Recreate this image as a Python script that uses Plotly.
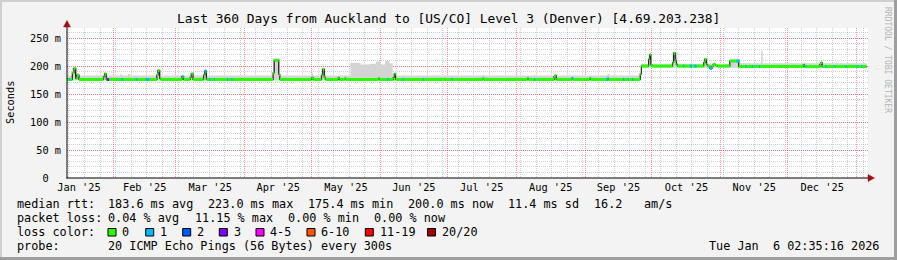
import plotly.graph_objects as go
from datetime import datetime
import bisect

# ---------------- data ----------------
title_text = "Last 360 Days from Auckland to [US/CO] Level 3 (Denver) [4.69.203.238]"
x_start = "2025-01-11 02:35"
x_end = "2026-01-06 02:35"

# median RTT (ms), step function: value holds from each time until the next
med_t = [
    "2025-01-11 00:00", "2025-01-13 12:00", "2025-01-14 06:00", "2025-01-15 00:00", "2025-01-15 12:00", "2025-01-16 12:00",
    "2025-01-27 12:00", "2025-01-28 00:00", "2025-01-28 18:00",
    "2025-02-20 12:00", "2025-02-21 00:00", "2025-02-21 18:00", "2025-02-22 06:00",
    "2025-03-03 18:00", "2025-03-04 12:00",
    "2025-03-07 12:00", "2025-03-08 00:00", "2025-03-08 18:00",
    "2025-03-13 12:00", "2025-03-14 00:00", "2025-03-14 18:00",
    "2025-04-13 18:00", "2025-04-14 06:00", "2025-04-16 06:00", "2025-04-16 18:00",
    "2025-05-01 00:00", "2025-05-01 18:00",
    "2025-05-05 12:00", "2025-05-06 00:00", "2025-05-06 18:00", "2025-05-07 06:00",
    "2025-05-13 00:00", "2025-05-13 12:00",
    "2025-05-16 00:00", "2025-05-16 12:00",
    "2025-05-31 00:00", "2025-05-31 12:00",
    "2025-06-06 18:00", "2025-06-07 06:00", "2025-06-07 18:00",
    "2025-07-17 00:00", "2025-07-17 12:00",
    "2025-08-06 00:00", "2025-08-06 12:00",
    "2025-08-18 00:00", "2025-08-18 12:00", "2025-08-19 00:00",
    "2025-08-26 00:00", "2025-08-26 12:00",
    "2025-09-03 00:00", "2025-09-03 12:00",
    "2025-09-11 00:00", "2025-09-11 12:00",
    "2025-09-25 18:00", "2025-09-26 06:00",
    "2025-09-29 12:00", "2025-09-30 00:00", "2025-09-30 12:00", "2025-10-01 00:00",
    "2025-10-10 06:00", "2025-10-10 18:00", "2025-10-11 12:00", "2025-10-12 00:00", "2025-10-12 12:00",
    "2025-10-24 06:00", "2025-10-24 18:00", "2025-10-25 12:00", "2025-10-26 00:00",
    "2025-10-27 00:00", "2025-10-28 00:00", "2025-10-28 12:00", "2025-10-29 12:00", "2025-10-30 12:00",
    "2025-11-05 00:00", "2025-11-09 00:00",
    "2025-12-08 00:00", "2025-12-08 12:00",
    "2025-12-15 12:00", "2025-12-16 00:00", "2025-12-16 12:00",
    "2026-01-05 12:00",
]
med_v = [
    176, 188, 196, 178, 184, 176,
    181, 186, 176,
    184, 192, 178, 176,
    181, 176,
    180, 186, 176,
    184, 191, 176,
    188, 210, 185, 176,
    179, 176,
    184, 194, 180, 176,
    179, 176,
    178, 176,
    178, 176,
    180, 186, 176,
    178, 176,
    178, 176,
    181, 183, 176,
    178, 176,
    178, 176,
    178, 176,
    186, 200,
    212, 220, 202, 200,
    206, 223, 210, 203, 200,
    206, 212, 203, 200,
    196, 200, 203, 201, 200,
    209, 199,
    202, 199,
    203, 206, 199,
    199,
]

# smoke (spread of the 20 pings), upper edge, step function
smoke_t = [
    "2025-01-11 00:00", "2025-01-13 12:00", "2025-01-15 12:00", "2025-01-16 12:00",
    "2025-01-27 12:00", "2025-01-28 18:00",
    "2025-02-04 00:00", "2025-02-05 00:00", "2025-02-07 12:00", "2025-02-08 12:00",
    "2025-02-20 12:00", "2025-02-22 06:00",
    "2025-03-07 12:00", "2025-03-08 18:00",
    "2025-03-13 12:00", "2025-03-14 18:00",
    "2025-04-13 18:00", "2025-04-16 18:00",
    "2025-05-01 00:00", "2025-05-01 18:00",
    "2025-05-05 12:00", "2025-05-07 06:00",
    "2025-05-18 12:00", "2025-05-23 00:00", "2025-05-27 00:00", "2025-05-30 00:00", "2025-06-01 00:00",
    "2025-06-03 00:00", "2025-06-05 00:00", "2025-06-06 12:00",
    "2025-06-06 18:00", "2025-06-07 18:00",
    "2025-08-18 00:00", "2025-08-19 00:00",
    "2025-09-11 00:00", "2025-09-12 00:00",
    "2025-09-25 18:00", "2025-09-26 06:00",
    "2025-09-29 12:00", "2025-10-01 00:00",
    "2025-10-10 06:00", "2025-10-12 12:00",
    "2025-10-24 06:00", "2025-10-26 00:00",
    "2025-11-05 00:00", "2025-11-09 00:00",
    "2025-11-19 00:00", "2025-11-19 18:00",
    "2025-12-16 00:00", "2025-12-16 12:00",
    "2026-01-05 12:00",
]
smoke_hi = [
    183, 197, 186, 183,
    188, 183,
    185, 183, 186, 183,
    194, 183,
    188, 183,
    193, 183,
    214, 183,
    187, 183,
    196, 183,
    206, 203, 204, 208, 203,
    209, 205, 183,
    188, 183,
    186, 183,
    186, 183,
    188, 204,
    222, 204,
    225, 204,
    214, 204,
    212, 205,
    227, 205,
    208, 205,
    205,
]
smoke_lo_t = ["2025-01-11 00:00", "2025-09-26 06:00", "2026-01-05 12:00"]
smoke_lo = [174, 197, 197]

# periods with 1 of 20 pings lost (blue) and 3 lost (purple)
loss1_start = ["2025-01-12 00:00", "2025-02-04 12:00", "2025-02-11 00:00", "2025-02-15 12:00", "2025-03-04 00:00",
               "2025-03-14 00:00", "2025-03-16 00:00", "2025-03-18 00:00", "2025-03-24 00:00", "2025-03-26 00:00",
               "2025-06-04 00:00", "2025-06-11 00:00", "2025-06-20 00:00", "2025-07-03 00:00", "2025-08-09 00:00",
               "2025-08-26 00:00", "2025-09-10 12:00", "2025-09-18 00:00", "2025-09-20 00:00", "2025-09-22 00:00",
               "2025-10-15 00:00", "2025-10-18 00:00", "2025-10-20 00:00", "2025-10-27 00:00", "2025-11-08 00:00",
               "2025-11-12 00:00", "2025-11-15 00:00", "2025-11-18 00:00", "2025-12-09 00:00", "2025-12-18 00:00",
               "2025-12-22 00:00", "2025-12-27 00:00", "2026-01-01 00:00", "2026-01-03 00:00"]
loss1_end = ["2025-01-12 12:00", "2025-02-05 06:00", "2025-02-11 18:00", "2025-02-17 00:00", "2025-03-04 12:00",
             "2025-03-14 18:00", "2025-03-16 12:00", "2025-03-18 12:00", "2025-03-24 12:00", "2025-03-26 12:00",
             "2025-06-04 12:00", "2025-06-11 12:00", "2025-06-20 12:00", "2025-07-03 12:00", "2025-08-09 12:00",
             "2025-08-26 12:00", "2025-09-11 12:00", "2025-09-18 12:00", "2025-09-20 12:00", "2025-09-22 12:00",
             "2025-10-15 12:00", "2025-10-19 00:00", "2025-10-21 00:00", "2025-10-28 00:00", "2025-11-09 12:00",
             "2025-11-12 12:00", "2025-11-15 12:00", "2025-11-18 12:00", "2025-12-09 12:00", "2025-12-18 12:00",
             "2025-12-22 12:00", "2025-12-27 12:00", "2026-01-01 12:00", "2026-01-03 12:00"]
loss3_start = ["2025-01-29 00:00"]
loss3_end = ["2025-01-30 00:00"]

y_tickvals = [0, 50, 100, 150, 200, 250]
y_ticktext = ["0\u00a0\u00a0", "50 m", "100 m", "150 m", "200 m", "250 m"]

legend_rtt = [("median rtt:", 16), ("183.6 ms avg", 107.3), ("223.0 ms max", 207.3), ("175.4 ms min", 307.3),
              ("200.0 ms now", 406.8), ("11.4 ms sd", 507.3), ("16.2", 593.3), ("am/s", 642.7)]
legend_loss = [("packet loss:", 16), ("0.04 % avg", 107.3), ("11.15 % max", 194), ("0.00 % min", 287.3),
               ("0.00 % now", 372.7)]
loss_labels = ["0", "1", "2", "3", "4-5", "6-10", "11-19", "20/20"]
loss_colors = ["#26ff00", "#00b8ff", "#0059ff", "#7e00ff", "#ff00ff", "#ff5500", "#ff0000", "#a10000"]
loss_box_x = [108, 145.7, 182.7, 219.3, 256, 307, 365.3, 427.5]
probe_text = "20 ICMP Echo Pings (56 Bytes) every 300s"
stamp_text = "Tue Jan  6 02:35:16 2026"

# ---------------- geometry (pixels) ----------------
W, H = 897, 260
PL, PR, PT, PB = 67, 868, 28, 178
def px(x):
    return (x - PL) / (PR - PL)
def py(y):
    return (PB - y) / (PB - PT)

FONT = "DejaVu Sans Mono"

med_dt = [datetime.strptime(t, "%Y-%m-%d %H:%M") for t in med_t]
def med_at(t):
    d = datetime.strptime(t, "%Y-%m-%d %H:%M")
    return med_v[max(0, bisect.bisect_right(med_dt, d) - 1)]

fig = go.Figure()

# smoke
fig.add_trace(go.Scatter(x=smoke_lo_t, y=smoke_lo, mode="lines", line=dict(width=0, shape="hv"),
                         hoverinfo="skip", showlegend=False))
fig.add_trace(go.Scatter(x=smoke_t, y=smoke_hi, mode="lines", line=dict(width=0, shape="hv"),
                         fill="tonexty", fillcolor="#d4d4d4", hoverinfo="skip", showlegend=False))

# black median connector
fig.add_trace(go.Scatter(x=med_t, y=med_v, mode="lines", line=dict(color="#202020", width=1.2, shape="hv"),
                         hoverinfo="skip", showlegend=False))

# green horizontal segments (loss 0)
gx, gy = [], []
for i in range(len(med_t) - 1):
    gx += [med_t[i], med_t[i + 1], None]
    gy += [med_v[i], med_v[i], None]
fig.add_trace(go.Scatter(x=gx, y=gy, mode="lines", line=dict(color=loss_colors[0], width=3),
                         hoverinfo="skip", showlegend=False))

def loss_trace(starts, ends, color):
    xs, ys = [], []
    for s, e in zip(starts, ends):
        v = med_at(s)
        xs += [s, e, None]
        ys += [v, v, None]
    fig.add_trace(go.Scatter(x=xs, y=ys, mode="lines", line=dict(color=color, width=3),
                             hoverinfo="skip", showlegend=False))

loss_trace(loss1_start, loss1_end, loss_colors[1])
loss_trace(loss3_start, loss3_end, loss_colors[3])

shapes = []
# frame
shapes.append(dict(type="rect", xref="paper", yref="paper", x0=px(0), x1=px(W), y0=py(0), y1=py(2),
                   fillcolor="#cfcfcf", line_width=0, layer="above"))
shapes.append(dict(type="rect", xref="paper", yref="paper", x0=px(0), x1=px(2), y0=py(0), y1=py(H),
                   fillcolor="#cfcfcf", line_width=0, layer="above"))
shapes.append(dict(type="rect", xref="paper", yref="paper", x0=px(W - 3), x1=px(W), y0=py(0), y1=py(H),
                   fillcolor="#9e9e9e", line_width=0, layer="above"))
shapes.append(dict(type="rect", xref="paper", yref="paper", x0=px(0), x1=px(W), y0=py(H - 3), y1=py(H),
                   fillcolor="#9e9e9e", line_width=0, layer="above"))
# axes
shapes.append(dict(type="line", xref="paper", yref="paper", x0=px(67), x1=px(67), y0=py(178.5), y1=py(24),
                   line=dict(color="#000000", width=1)))
shapes.append(dict(type="line", xref="paper", yref="paper", x0=px(66.5), x1=px(871), y0=py(178), y1=py(178),
                   line=dict(color="#000000", width=1)))
# arrows
shapes.append(dict(type="path", xref="paper", yref="paper",
                   path=f"M {px(63.5)},{py(27)} L {px(70.5)},{py(27)} L {px(67)},{py(20.5)} Z",
                   fillcolor="#a01010", line=dict(color="#a01010", width=0.5)))
shapes.append(dict(type="path", xref="paper", yref="paper",
                   path=f"M {px(868)},{py(174.5)} L {px(868)},{py(181.5)} L {px(874.5)},{py(178)} Z",
                   fillcolor="#a01010", line=dict(color="#a01010", width=0.5)))
# loss colour boxes
for bx, c in zip(loss_box_x, loss_colors):
    shapes.append(dict(type="rect", xref="paper", yref="paper", x0=px(bx), x1=px(bx + 8), y0=py(236), y1=py(228.5),
                       fillcolor=c, line=dict(color="#000000", width=1)))

ann = []
ann.append(dict(text=title_text, x=px(448), y=py(18), xref="paper", yref="paper", showarrow=False,
                xanchor="center", yanchor="middle", font=dict(family=FONT, size=12.9, color="#000000")))
ann.append(dict(text="Seconds", x=px(10), y=py(103), xref="paper", yref="paper", showarrow=False, textangle=-90,
                xanchor="center", yanchor="middle", font=dict(family=FONT, size=10.3, color="#000000")))
ann.append(dict(text="RRDTOOL / TOBI OETIKER", x=px(888), y=py(60), xref="paper", yref="paper", showarrow=False,
                textangle=90, xanchor="center", yanchor="middle", font=dict(family=FONT, size=8, color="#b4b4b4")))

def line_items(items, yy):
    for t, xx in items:
        ann.append(dict(text=t, x=px(xx), y=py(yy), xref="paper", yref="paper", showarrow=False, borderpad=0,
                        xanchor="left", yanchor="middle", font=dict(family=FONT, size=11.8, color="#000000")))

line_items(legend_rtt, 204)
line_items(legend_loss, 218)
line_items([("loss color:", 16)] + [(l, bx + 13.3) for l, bx in zip(loss_labels, loss_box_x)], 232)
line_items([("probe:", 16), (probe_text, 107.3)], 246)
ann.append(dict(text=stamp_text, x=px(880), y=py(246), xref="paper", yref="paper", showarrow=False, borderpad=0,
                xanchor="right", yanchor="middle", font=dict(family=FONT, size=11.8, color="#000000")))

fig.update_layout(
    width=W, height=H,
    margin=dict(l=PL, r=W - PR, t=PT, b=H - PB, pad=0),
    paper_bgcolor="#f3f3f3", plot_bgcolor="#ffffff",
    showlegend=False,
    shapes=shapes, annotations=ann,
    xaxis=dict(type="date", range=[x_start, x_end], dtick="M1", tick0="2025-01-01",
               ticklabelmode="period", tickformat="%b '%y", ticks="", ticklen=0,
               showgrid=True, gridcolor="rgba(255,60,60,0.55)", griddash="1px,1px", gridwidth=1,
               zeroline=False, showline=False,
               tickfont=dict(family=FONT, size=10.3, color="#000000"), ticklabelstandoff=2,
               minor=dict(dtick=7 * 86400000, tick0="2025-01-05", showgrid=True,
                          gridcolor="rgba(150,150,150,0.45)", griddash="1px,1px", gridwidth=1)),
    yaxis=dict(range=[0, 268], tickmode="array", tickvals=y_tickvals, ticktext=y_ticktext,
               ticks="", ticklen=0, showgrid=True, gridcolor="rgba(255,60,60,0.55)", griddash="1px,1px",
               zeroline=False, showline=False, fixedrange=True,
               tickfont=dict(family=FONT, size=10.3, color="#000000"), ticklabelstandoff=5,
               minor=dict(dtick=10, tick0=0, showgrid=True, gridcolor="rgba(150,150,150,0.45)",
                          griddash="1px,1px", gridwidth=1)),
)

fig.write_html("out.html")
